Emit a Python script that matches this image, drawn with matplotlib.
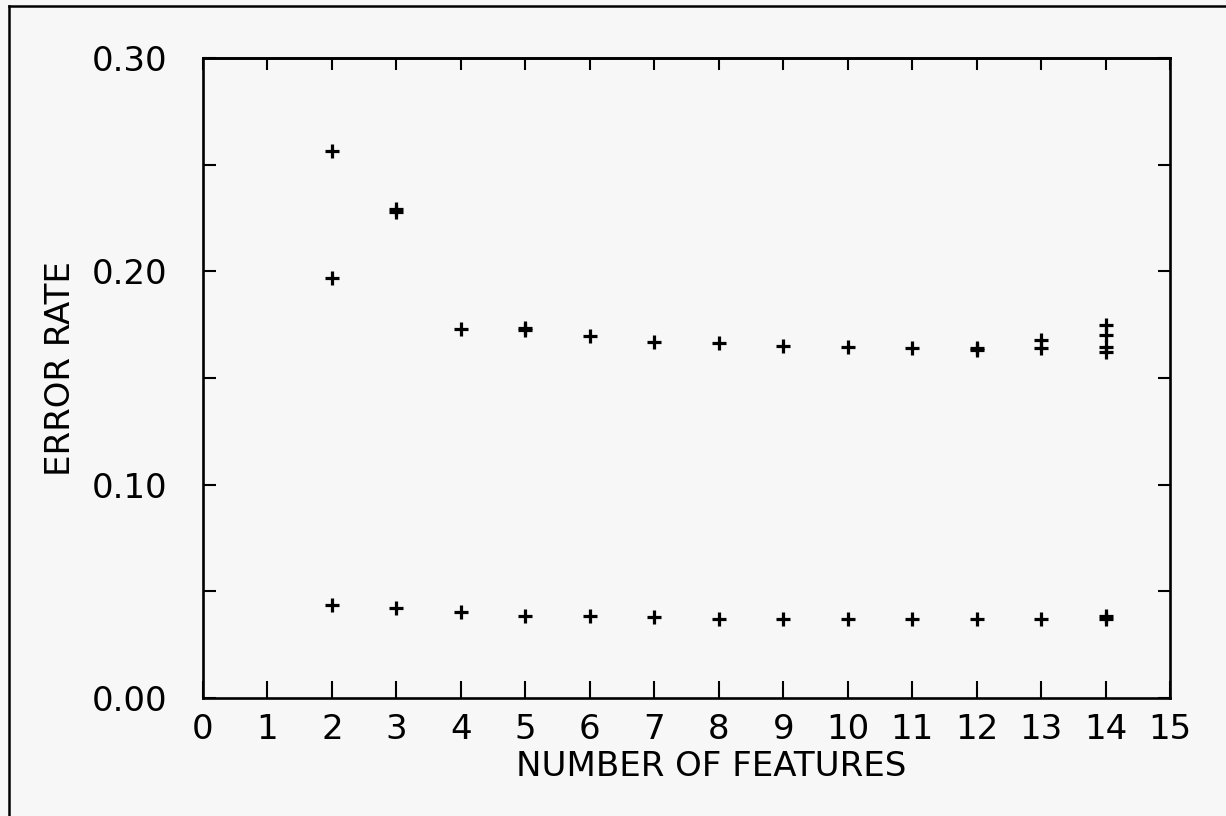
import matplotlib
matplotlib.use("Agg")
import matplotlib.pyplot as plt
from matplotlib.lines import Line2D
from matplotlib.ticker import MultipleLocator, FixedLocator

# ---- data ----
x_ticks = list(range(0, 16))
y_major = [0.00, 0.10, 0.20, 0.30]
y_labels = ["0.00", "0.10", "0.20", "0.30"]

upper_x = [2, 2, 3, 3, 4, 5, 5, 6, 7, 8, 9, 10, 11, 12, 12, 13, 13, 14, 14, 14, 14]
upper_y = [0.2564, 0.1969, 0.2290, 0.2280, 0.1728, 0.1735, 0.1725, 0.1697, 0.1670,
           0.1662, 0.1650, 0.1644, 0.1641, 0.1640, 0.1632, 0.1678, 0.1639,
           0.1748, 0.1702, 0.1647, 0.1624]

lower_x = [2, 3, 4, 5, 6, 7, 8, 9, 10, 11, 12, 13, 14, 14]
lower_y = [0.0437, 0.0423, 0.0403, 0.0386, 0.0384, 0.0380, 0.0370, 0.0371,
           0.0370, 0.0370, 0.0369, 0.0370, 0.0386, 0.0369]

x_label = "NUMBER OF FEATURES"
y_label = "ERROR RATE"

# ---- figure ----
W, H = 1226, 816
bg = "#f7f7f7"
fig = plt.figure(figsize=(W / 100, H / 100), dpi=100, facecolor=bg)

L, R, T, B = 203, 1170, 58, 698
ax = fig.add_axes([L / W, 1 - B / H, (R - L) / W, (B - T) / H], facecolor=bg)

mk = dict(linestyle="none", marker="+", markersize=9.6, markeredgewidth=2.3, color="black")
ax.plot(upper_x, upper_y, **mk)
ax.plot(lower_x, lower_y, **mk)

ax.set_xlim(0, 15)
ax.set_ylim(0, 0.30)

font = dict(family="DejaVu Sans", size=24.5, color="black")

ax.xaxis.set_major_locator(FixedLocator(x_ticks))
ax.set_xticklabels([str(v) for v in x_ticks], fontdict=font)
ax.yaxis.set_major_locator(FixedLocator(y_major))
ax.yaxis.set_minor_locator(MultipleLocator(0.05))
ax.set_yticklabels(y_labels, fontdict=font)

ax.tick_params(axis="x", which="major", direction="in", length=12.2, width=1.5,
               bottom=True, top=False, pad=11)
ax.tick_params(axis="y", which="both", direction="in", length=9, width=1.5,
               left=True, right=True, pad=26)
ax.tick_params(axis="y", which="minor", labelleft=False)

top = ax.secondary_xaxis("top")
top.xaxis.set_major_locator(FixedLocator(x_ticks))
top.tick_params(axis="x", direction="in", length=8.6, width=1.5, labeltop=False)
top.spines["top"].set_linewidth(1.9)

for s in ax.spines.values():
    s.set_linewidth(1.9)

fig.text(711 / W, 1 - 767 / H, x_label, ha="center", va="center", **font)
fig.text(60 / W, 1 - 369 / H, y_label, ha="center", va="center", rotation=90, **font)

# scanned page frame (top and left edges)
fig.add_artist(Line2D([9 / W, 1], [1 - 6 / H, 1 - 6 / H], transform=fig.transFigure,
                      color="black", linewidth=1.8))
fig.add_artist(Line2D([9 / W, 9 / W], [0, 1 - 6 / H], transform=fig.transFigure,
                      color="black", linewidth=1.8))

fig.savefig("out.png", dpi=100, facecolor=bg)
